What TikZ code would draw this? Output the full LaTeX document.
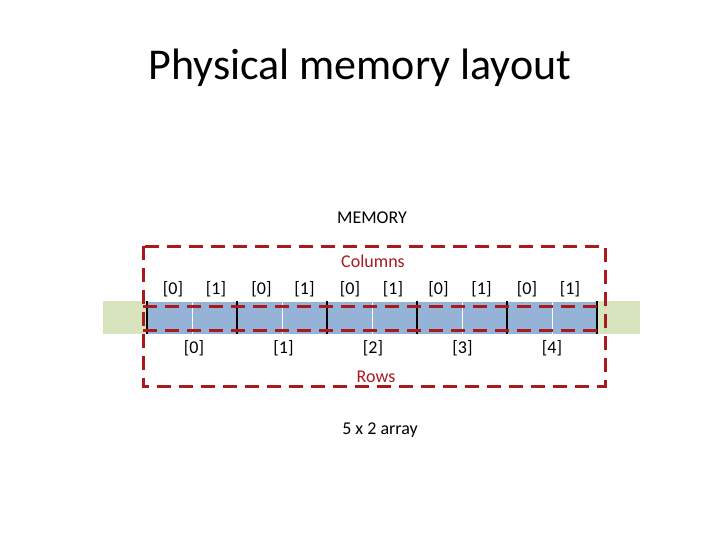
\documentclass[tikz,border=0pt]{standalone}
\usepackage{fontspec}
\setmainfont{Carlito}
\usetikzlibrary{positioning}
\definecolor{darkred}{RGB}{170,25,30}
\definecolor{cellblue}{RGB}{149,179,215}
\definecolor{palegreen}{RGB}{215,228,189}

\begin{document}
\begin{tikzpicture}[x=1pt, y=-1pt,
  cell/.style={draw=white, thick, fill=cellblue},
  bar/.style={black, line width=2.5pt},
  reddash/.style={draw=darkred, line width=3pt, dash pattern=on 14pt off 8pt},
  idx/.style={font=\fontsize{18}{20}\selectfont},
  redlabel/.style={font=\fontsize{18}{20}\selectfont, text=darkred}
]
\useasboundingbox (0,0) rectangle (720,540);

% Title
\node[font=\fontsize{44}{50}\selectfont] (title) at (360,68) {Physical memory layout};
\node[idx] (memory) at (372,218) {MEMORY};

% Strip
\fill[palegreen] (103,301) rectangle (640,334);
\foreach \i in {0,...,9}
  \draw[cell] (147+45*\i,301) rectangle (192+45*\i,334);
\foreach \i in {0,...,5}
  \draw[bar] (147+90*\i,301) -- (147+90*\i,334);

% Dashed frames
\draw[reddash] (143,246) rectangle (605,386);
\coordinate (la) at (143,306);
\coordinate (ra) at (605,306);
\coordinate (lb) at (143,330);
\coordinate (rb) at (605,330);
\draw[reddash] (la) -- (ra);
\draw[reddash] (lb) -- (rb);

% Labels
\node[redlabel] (columns) at (373,261) {Columns};
\node[redlabel] (rows) at (376,377) {Rows};
\foreach \i in {0,...,4} {
  \node[idx] (c0\i) at (173+88.5*\i,289) {[0]};
  \node[idx] (c1\i) at (216+88.5*\i,289) {[1]};
  \node[idx] (r\i) at (194+89.5*\i,348) {[\i]};
}
\node[idx] (size) at (380,430) {5 x 2 array};
\end{tikzpicture}
\end{document}
